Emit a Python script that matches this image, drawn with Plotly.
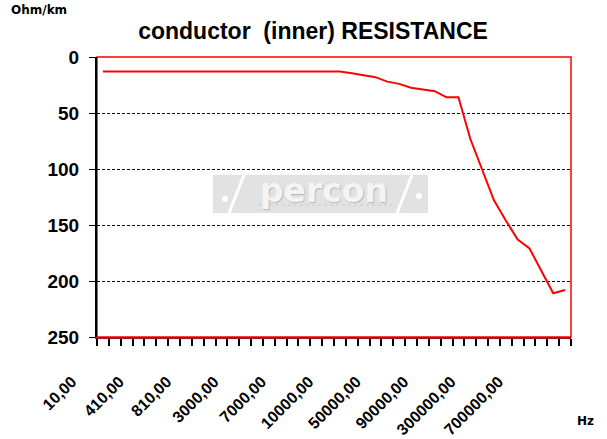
import plotly.graph_objects as go

# ---- data ----
freq_hz = [10, 110, 210, 310, 410, 510, 610, 710, 810, 910,
           1000, 2000, 3000, 4000, 5000, 6000, 7000, 8000, 9000, 9500,
           10000, 20000, 30000, 40000, 50000, 60000, 70000, 80000, 90000, 100000,
           150000, 200000, 300000, 400000, 500000, 600000, 700000, 800000, 900000, 1000000]
resistance = [13, 13, 13, 13, 13, 13, 13, 13, 13, 13,
              13, 13, 13, 13, 13, 13, 13, 13, 13, 13,
              13, 14.5, 16.5, 18, 22, 24, 27.5, 29, 30.5, 36,
              36, 73, 101, 128, 146, 163, 171, 191, 211, 208]
label_every = 4
y_ticks = [0, 50, 100, 150, 200, 250]

def fmt(v):
    return f"{v:.2f}".replace(".", ",")

idx = list(range(len(freq_hz)))
label_idx = set(idx[::label_every])
# ticks sit on category boundaries; the label of category i is carried by boundary i-0.5
tick_pos = [i - 0.5 for i in range(len(freq_hz) + 1)]
tick_txt = [f"<b>{fmt(freq_hz[i])}</b>" if (i < len(freq_hz) and i in label_idx) else " "
            for i in range(len(freq_hz) + 1)]

FONT = "Arial, 'Liberation Sans', sans-serif"
WIDE = "'DejaVu Sans', sans-serif"

fig = go.Figure()
fig.add_trace(go.Scatter(
    x=idx, y=resistance, mode="lines",
    line=dict(color="#ff0000", width=2),
    customdata=freq_hz, hovertemplate="%{customdata} Hz: %{y} Ohm/km<extra></extra>",
    showlegend=False))

def px_x(p):
    return (p - 97) / 474.0

def px_y(p):
    return (337 - p) / 280.0

shapes = []
# plot border (red)
shapes.append(dict(type="rect", xref="x domain", yref="y domain", x0=0, x1=1, y0=0, y1=1,
                   line=dict(color="#ff0000", width=1.5), layer="below"))
# watermark logo (approximation)
shapes.append(dict(type="rect", xref="paper", yref="paper",
                   x0=px_x(213), x1=px_x(428), y0=px_y(213), y1=px_y(175),
                   fillcolor="#e2e2e2", line=dict(width=0), layer="below"))
for (xa, ya, xb, yb) in [(229, 213, 244, 175), (397, 213, 412, 175)]:
    shapes.append(dict(type="line", xref="paper", yref="paper",
                       x0=px_x(xa), y0=px_y(ya), x1=px_x(xb), y1=px_y(yb),
                       line=dict(color="#ffffff", width=3), layer="below"))
for cx, cy in [(225, 199), (419, 196)]:
    shapes.append(dict(type="circle", xref="paper", yref="paper",
                       x0=px_x(cx - 3), x1=px_x(cx + 3), y0=px_y(cy + 3), y1=px_y(cy - 3),
                       fillcolor="#ffffff", line=dict(width=0), layer="below"))
shapes.append(dict(type="line", xref="paper", yref="paper",
                   x0=px_x(258), y0=px_y(205), x1=px_x(392), y1=px_y(205),
                   line=dict(color="#c8c8c8", width=1, dash="dot"), layer="below"))

annotations = [
    dict(text="<b>percon</b>", xref="paper", yref="paper",
         x=px_x(324), y=px_y(190), xanchor="center", yanchor="middle", showarrow=False,
         font=dict(family=WIDE, size=33, color="#f4f4f4",
                   shadow="1px 1px 1px #b8b8b8")),
    dict(text="<b>Ohm/km</b>", xref="paper", yref="paper",
         x=px_x(9), y=px_y(10), xanchor="left", yanchor="middle", showarrow=False,
         font=dict(family=WIDE, size=12, color="#000000")),
    dict(text="<b>Hz</b>", xref="paper", yref="paper",
         x=px_x(575), y=px_y(421), xanchor="left", yanchor="middle", showarrow=False,
         font=dict(family=WIDE, size=12, color="#000000")),
]

fig.update_layout(
    width=607, height=439,
    margin=dict(l=97, r=36, t=57, b=102, autoexpand=False),
    paper_bgcolor="#ffffff", plot_bgcolor="#ffffff",
    title=dict(text="<b>conductor  (inner) RESISTANCE</b>",
               x=313 / 607, xref="container", xanchor="center",
               y=1 - 31 / 439, yref="container", yanchor="middle",
               font=dict(family=FONT, size=23, color="#000000")),
    shapes=shapes, annotations=annotations,
    showlegend=False,
)

fig.update_xaxes(
    automargin=False,
    range=[-0.5, len(freq_hz) - 0.5],
    tickmode="array", tickvals=tick_pos, ticktext=tick_txt,
    ticks="outside", ticklen=7, tickcolor="#000000", tickwidth=2,
    tickangle=-45,
    tickfont=dict(family=FONT, size=16, color="#000000"),
    ticklabelshift=-25, ticklabelstandoff=20,
    showline=True, linecolor="#a01818", linewidth=2,
    showgrid=False, zeroline=False,
)
fig.update_yaxes(
    automargin=False,
    range=[250, 0], tickmode="array", tickvals=y_ticks,
    ticktext=[f"<b>{v}</b>" for v in y_ticks],
    ticks="outside", ticklen=6, tickcolor="#000000", tickwidth=1,
    tickfont=dict(family=FONT, size=19, color="#000000"),
    ticklabelstandoff=6,
    showline=True, linecolor="#000000", linewidth=2,
    showgrid=True, gridcolor="#000000", gridwidth=1, griddash="3px,2px",
    zeroline=False,
)

fig.write_html("out.html", config={"displayModeBar": False},
               post_script="document.body.style.margin='0';document.body.style.padding='0';")
